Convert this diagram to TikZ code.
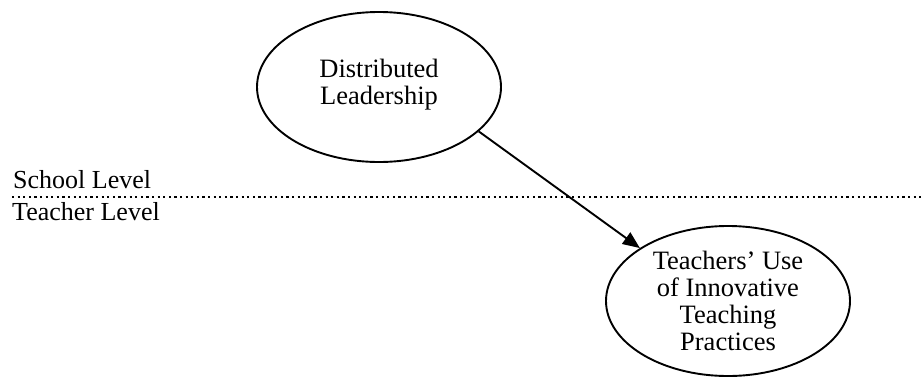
\documentclass[tikz,border=0pt]{standalone}
\usepackage{fontspec}
\setmainfont{Liberation Serif}
\usetikzlibrary{shapes.geometric,arrows.meta}
\tikzset{
  oval/.style={ellipse, draw, line width=1.9pt, minimum width=244pt, minimum height=150pt, inner sep=0pt},
  ovaltext/.style={align=center, inner sep=0pt, font=\fontsize{26.5}{27}\selectfont},
  lvl/.style={anchor=base west, inner sep=0pt, font=\fontsize{26}{27}\selectfont},
  conn/.style={line width=1.9pt, -{Triangle[length=17pt,width=14pt]}},
  divider/.style={line width=2.2pt, dash pattern=on 2.2pt off 3.4pt}
}
\begin{document}
\begin{tikzpicture}[x=1pt,y=-1pt]
\useasboundingbox (0,0) rectangle (921,378);
\node[oval] (e1) at (379,87) {};
\node[ovaltext] (t1) at (379,85) {Distributed\\Leadership};
\node[oval] (e2) at (728,301) {};
\node[ovaltext] (t2) at (728,301) {Teachers’ Use\\of Innovative\\Teaching\\Practices};
\coordinate (dl) at (12,197);
\coordinate (dr) at (921,197);
\draw[divider] (dl) -- (dr);
\node[lvl] (school) at (13,188) {School Level};
\node[lvl] (teacher) at (12,220) {Teacher Level};
\draw[conn] (e1.-24) -- (e2.149);
\end{tikzpicture}
\end{document}
